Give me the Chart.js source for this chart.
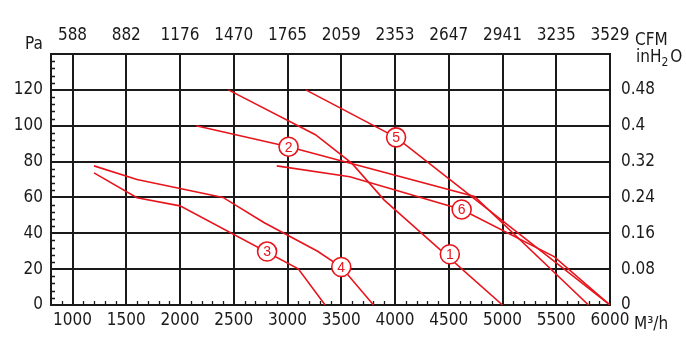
<!DOCTYPE html>
<html><head><meta charset="utf-8">
<script src="https://cdn.jsdelivr.net/npm/chart.js@4/dist/chart.umd.min.js"></script>
<style>html,body{margin:0;padding:0;background:#fff;}#wrap{width:686px;height:357px;}</style>
</head><body><div id="wrap"><canvas id="c" width="686" height="357"></canvas></div>
<script>
// ---- data ----
const flowTicks = [1000,1500,2000,2500,3000,3500,4000,4500,5000,5500,6000];
const cfmLabels = ['588','882','1176','1470','1765','2059','2353','2647','2941','3235','3529'];
const paTicks = [0,20,40,60,80,100,120];
const inH2OLabels = ['0','0.08','0.16','0.24','0.32','0.4','0.48'];

const curve1Flow = [2450, 3260, 3600, 3900, 5000];
const curve1Pa   = [120, 95, 79, 58.5, 0];
const curve2Flow = [2150, 3010, 4740, 5800];
const curve2Pa   = [100, 88.3, 60.6, 0];
const curve3Flow = [1200, 1600, 2000, 3100, 3350];
const curve3Pa   = [73.7, 59.8, 55.3, 20.2, 0];
const curve4Flow = [1200, 1600, 2000, 2400, 2780, 3280, 3500, 3800];
const curve4Pa   = [77.6, 70, 65, 60, 46, 30, 21.2, 0];
const curve5Flow = [3170, 4010, 6000];
const curve5Pa   = [120, 93.5, 0];
const curve6Flow = [2900, 3580, 4620, 5480, 6000];
const curve6Pa   = [77.6, 71.5, 53.3, 27, 0];

const markerFlow = [4510, 3010, 2810, 3500, 4010, 4620];
const markerPa   = [28.3, 88.3, 29.8, 21.2, 93.5, 53.3];
const markerText = ['1','2','3','4','5','6'];

const flowMin = 800, flowMax = 6000, paMin = 0, paMax = 140;
const minorFlowStep = 100, minorPaStep = 4;

// ---- style ----
const RED = '#e8141c';
const INK = '#1a1a1a';
const FONT = '"Liberation Sans Narrow","DejaVu Sans Condensed","Arial Narrow",sans-serif';

const pts = (xs, ys) => xs.map((v, i) => ({x: v, y: ys[i]}));
const curves = [
  pts(curve1Flow, curve1Pa), pts(curve2Flow, curve2Pa), pts(curve3Flow, curve3Pa),
  pts(curve4Flow, curve4Pa), pts(curve5Flow, curve5Pa), pts(curve6Flow, curve6Pa)
];

const datasets = [{
  type: 'scatter', data: pts(markerFlow, markerPa), order: -1,
  pointRadius: 9.5, pointBackgroundColor: '#fff', pointBorderColor: RED, pointBorderWidth: 1.6,
  showLine: false
}].concat(curves.map(d => ({
  type: 'line', data: d, borderColor: RED, borderWidth: 1.6, pointRadius: 0,
  fill: false, tension: 0, order: 1
})));

const decor = {
  id: 'decor',
  beforeDatasetsDraw(chart) {
    const {ctx, chartArea: a, scales: {x, y}} = chart;
    ctx.save();
    ctx.strokeStyle = INK; ctx.lineWidth = 1.3;
    ctx.beginPath();
    for (let v = flowMin + minorFlowStep; v < flowMax; v += minorFlowStep) {
      if (v % 500 === 0) continue;
      const px = Math.round(x.getPixelForValue(v)) + 0.5;
      ctx.moveTo(px, a.bottom); ctx.lineTo(px, a.bottom - 4);
    }
    for (let v = paMin + minorPaStep; v < paMax; v += minorPaStep) {
      if (v % 20 === 0) continue;
      const py = Math.round(y.getPixelForValue(v)) + 0.5;
      ctx.moveTo(a.left, py); ctx.lineTo(a.left + 4, py);
    }
    ctx.stroke();
    ctx.restore();
  },
  afterDatasetsDraw(chart) {
    const {ctx} = chart;
    const meta = chart.getDatasetMeta(0);
    ctx.save();
    ctx.fillStyle = RED;
    ctx.font = '14px "Liberation Sans", Arial, sans-serif';
    ctx.textAlign = 'center'; ctx.textBaseline = 'middle';
    meta.data.forEach((el, i) => ctx.fillText(markerText[i], el.x, el.y + 1));
    ctx.restore();
  },
  afterDraw(chart) {
    const {ctx} = chart;
    ctx.save();
    ctx.fillStyle = INK;
    ctx.textBaseline = 'alphabetic';
    ctx.font = '17px ' + FONT;
    ctx.fillText('Pa', 25, 49);
    ctx.fillText('CFM', 635, 45);
    ctx.fillText('inH', 636, 62);
    let w = ctx.measureText('inH').width;
    ctx.font = '12px ' + FONT;
    ctx.fillText('2', 636 + w, 66);
    const w2 = ctx.measureText('2').width;
    ctx.font = '17px ' + FONT;
    ctx.fillText('O', 636 + w + w2 + 2, 62);
    ctx.fillText('M³/h', 634, 329);
    ctx.restore();
  }
};

const tickFont = {family: FONT, size: 17};
const border = {display: true, color: INK, width: 2};

new Chart(document.getElementById('c'), {
  data: {datasets},
  options: {
    responsive: false, animation: false,
    layout: {padding: 0},
    plugins: {legend: {display: false}, tooltip: {enabled: false}},
    scales: {
      x: {
        type: 'linear', position: 'bottom', min: flowMin, max: flowMax,
        afterBuildTicks: s => { s.ticks = flowTicks.map(v => ({value: v})); },
        afterFit: s => { s.height = 52; },
        grid: {color: INK, lineWidth: 2, drawTicks: false},
        border,
        ticks: {font: tickFont, color: INK, padding: 5, maxRotation: 0, autoSkip: false,
          callback: v => String(v)}
      },
      x2: {
        type: 'linear', position: 'top', min: flowMin, max: flowMax,
        afterBuildTicks: s => { s.ticks = flowTicks.map(v => ({value: v})); },
        afterFit: s => { s.height = 54; },
        grid: {display: false, drawTicks: false},
        border,
        ticks: {font: tickFont, color: INK, padding: 8, maxRotation: 0, autoSkip: false,
          callback: (v, i) => cfmLabels[i]}
      },
      y: {
        type: 'linear', position: 'left', min: paMin, max: paMax,
        afterBuildTicks: s => { s.ticks = paTicks.map(v => ({value: v})); },
        afterFit: s => { s.width = 51; },
        grid: {color: INK, lineWidth: 2, drawTicks: false},
        border,
        ticks: {font: tickFont, color: INK, padding: 8, autoSkip: false, callback: v => String(v)}
      },
      y2: {
        type: 'linear', position: 'right', min: paMin, max: paMax,
        afterBuildTicks: s => { s.ticks = paTicks.map(v => ({value: v})); },
        afterFit: s => { s.width = 76; },
        grid: {display: false, drawTicks: false},
        border,
        ticks: {font: tickFont, color: INK, padding: 11, autoSkip: false,
          callback: (v, i) => inH2OLabels[i]}
      }
    }
  },
  plugins: [decor]
});
</script>
</body></html>
